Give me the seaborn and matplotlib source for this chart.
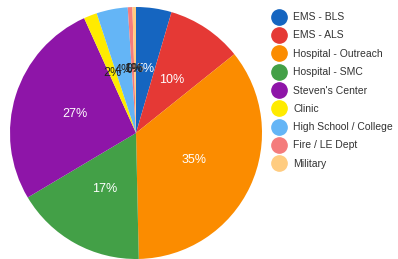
import matplotlib
matplotlib.use("Agg")
import matplotlib.pyplot as plt
from matplotlib.lines import Line2D
import seaborn as sns

# slice data (percent, clockwise from 12 o'clock)
categorias = ["EMS - BLS", "EMS - ALS", "Hospital - Outreach", "Hospital - SMC",
              "Steven's Center", "Clinic", "High School / College",
              "Fire / LE Dept", "Military"]
valores = [4.55, 9.7, 35.4, 16.8, 26.8, 1.7, 4.0, 0.6, 0.45]
colores = ["#1565c0", "#e53935", "#fb8c00", "#43a047", "#8e15a8",
           "#ffeb00", "#64b5f6", "#f47c7c", "#ffcc80"]
texto_oscuro = ["Clinic", "High School / College", "Fire / LE Dept", "Military"]

sns.set_theme(style="white")
plt.rcParams["font.family"] = ["Liberation Sans", "DejaVu Sans"]

fig = plt.figure(figsize=(3.98, 2.59), dpi=100)
ax = fig.add_axes([10 / 398, 0.0, 252 / 398, 252 / 259])

wedges, textos, autotextos = ax.pie(
    valores, colors=colores, startangle=90, counterclock=False,
    autopct=lambda p: f"{p:.0f}%", pctdistance=0.51,
    wedgeprops=dict(linewidth=0),
    textprops=dict(fontsize=9),
)
for cat, t in zip(categorias, autotextos):
    t.set_color("#222222" if cat in texto_oscuro else "white")
ax.set_xlim(-1, 1)
ax.set_ylim(-1, 1)
ax.set_aspect("equal")

handles = [Line2D([], [], marker="o", linestyle="none", markersize=11,
                  markerfacecolor=c, markeredgecolor=c) for c in colores]
fig.legend(handles, categorias, loc="upper left",
           bbox_to_anchor=(269 / 398, 1 - 8 / 259), frameon=False,
           fontsize=7.5, labelcolor="#333333", handletextpad=0.75,
           labelspacing=0.8, handlelength=1.2, borderaxespad=0)

fig.savefig("out.png", dpi=100)
